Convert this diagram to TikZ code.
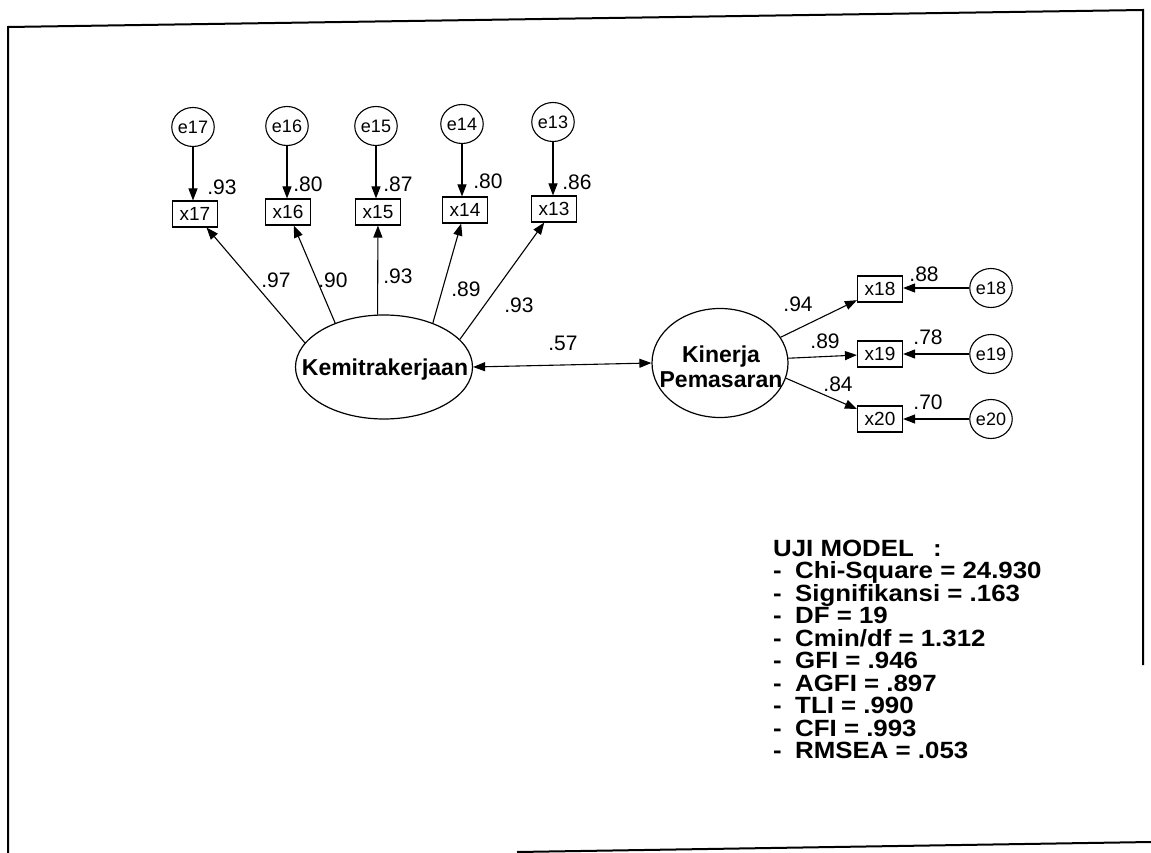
\documentclass[tikz,border=0pt]{standalone}
\usepackage{fontspec}
\setmainfont{Liberation Sans}
\newfontfamily\statfont[FakeStretch=1.1]{Liberation Sans}
\usetikzlibrary{arrows.meta,shapes.geometric}
\begin{document}
\begin{tikzpicture}[x=1pt,y=-1pt,
  err/.style={ellipse,draw,line width=1.1pt,minimum width=41pt,minimum height=39pt,inner sep=0pt,font=\fontsize{18}{18}\selectfont},
  obs/.style={rectangle,draw,line width=1.1pt,minimum width=45pt,minimum height=26pt,inner sep=0pt,font=\fontsize{19}{19}\selectfont},
  lat/.style={ellipse,draw,line width=1.2pt,inner sep=0pt},
  latlabel/.style={inner sep=0pt,align=center,font=\bfseries\fontsize{23}{25}\selectfont},
  coef/.style={inner sep=0pt,font=\fontsize{21}{21}\selectfont},
  arr/.style={line width=1.1pt,-{Triangle[length=12pt,width=9pt]}},
  darr/.style={line width=1.1pt,{Triangle[length=12pt,width=9pt]}-{Triangle[length=12pt,width=9pt]}},
  frameline/.style={line width=2pt},
  stat/.style={anchor=base west,inner sep=0pt,font=\statfont\bfseries\fontsize{23.5}{24}\selectfont}
]
\useasboundingbox (0,0) rectangle (1151,853);
\fill[white] (0,0) rectangle (1151,853);

% frame
\draw[frameline] (8,853) -- (8,27) -- (1143,10) -- (1143,665);
\draw[frameline] (517,852) -- (1151,842);

% top row
\node[err] (e17) at (193,127) {e17};
\node[err] (e16) at (287,126) {e16};
\node[err] (e15) at (376,126) {e15};
\node[err] (e14) at (462,124) {e14};
\node[err] (e13) at (553,122) {e13};
\node[obs] (x17) at (195,214) {x17};
\node[obs] (x16) at (288,212) {x16};
\node[obs] (x15) at (378,212) {x15};
\node[obs] (x14) at (465,210) {x14};
\node[obs] (x13) at (554,209) {x13};
\foreach \n in {13,14,15,16,17}{
  \draw[arr] (e\n.south) -- (e\n.south |- x\n.north);
}
\node[coef] (r17) at (222,187) {.93};
\node[coef] (r16) at (308,184) {.80};
\node[coef] (r15) at (398,184) {.87};
\node[coef] (r14) at (488,181) {.80};
\node[coef] (r13) at (577,182) {.86};

% latent variables
\node[lat,minimum width=177pt,minimum height=104pt] (K) at (384,367) {};
\node[latlabel] (Kt) at (385,370) {Kemitrakerjaan};
\node[lat,minimum width=136pt,minimum height=109pt] (Kin) at (720,363) {};
\node[latlabel] (Kint) at (721,367) {Kinerja\\Pemasaran};

\draw[arr] (K.163) -- (x17);
\draw[arr] (K.138) -- (x16);
\draw[arr] (K.97) -- (x15);
\draw[arr] (K.42) -- (x14);
\draw[arr] (K.20) -- (x13);
\node[coef] (l17) at (276,280) {.97};
\node[coef] (l16) at (333,280) {.90};
\node[coef] (l15) at (398,276) {.93};
\node[coef] (l14) at (466,289) {.89};
\node[coef] (l13) at (519,305) {.93};

\draw[darr] (K.east) -- (Kin.west);
\node[coef] (cor) at (563,343) {.57};

% right column
\node[obs] (x18) at (880,289) {x18};
\node[obs] (x19) at (880,354) {x19};
\node[obs] (x20) at (880,419) {x20};
\node[err] (e18) at (991,288) {e18};
\node[err] (e19) at (991,354) {e19};
\node[err] (e20) at (991,419) {e20};
\foreach \n in {18,19,20}{
  \draw[arr] (e\n.west) -- (e\n.west -| x\n.east);
}
\node[coef] (r18) at (924,274) {.88};
\node[coef] (r19) at (928,337) {.78};
\node[coef] (r20) at (928,402) {.70};

\draw[arr] (Kin.23) -- (x18);
\draw[arr] (Kin.4) -- (x19);
\draw[arr] (Kin.-13) -- (x20);
\node[coef] (l18) at (798,304) {.94};
\node[coef] (l19) at (825,341) {.89};
\node[coef] (l20) at (838,384) {.84};

% model fit text
\node[stat] (s1) at (773,556) {\makebox[160pt][l]{UJI MODEL}:};
\node[stat] (s2) at (773,578.5) {\makebox[22pt][l]{-}Chi-Square = 24.930};
\node[stat] (s3) at (773,601) {\makebox[22pt][l]{-}Signifikansi = .163};
\node[stat] (s4) at (773,623.5) {\makebox[22pt][l]{-}DF = 19};
\node[stat] (s5) at (773,646) {\makebox[22pt][l]{-}Cmin/df = 1.312};
\node[stat] (s6) at (773,668.5) {\makebox[22pt][l]{-}GFI = .946};
\node[stat] (s7) at (773,691) {\makebox[22pt][l]{-}AGFI = .897};
\node[stat] (s8) at (773,713.5) {\makebox[22pt][l]{-}TLI = .990};
\node[stat] (s9) at (773,736) {\makebox[22pt][l]{-}CFI = .993};
\node[stat] (s10) at (773,758.5) {\makebox[22pt][l]{-}RMSEA = .053};
\end{tikzpicture}
\end{document}
